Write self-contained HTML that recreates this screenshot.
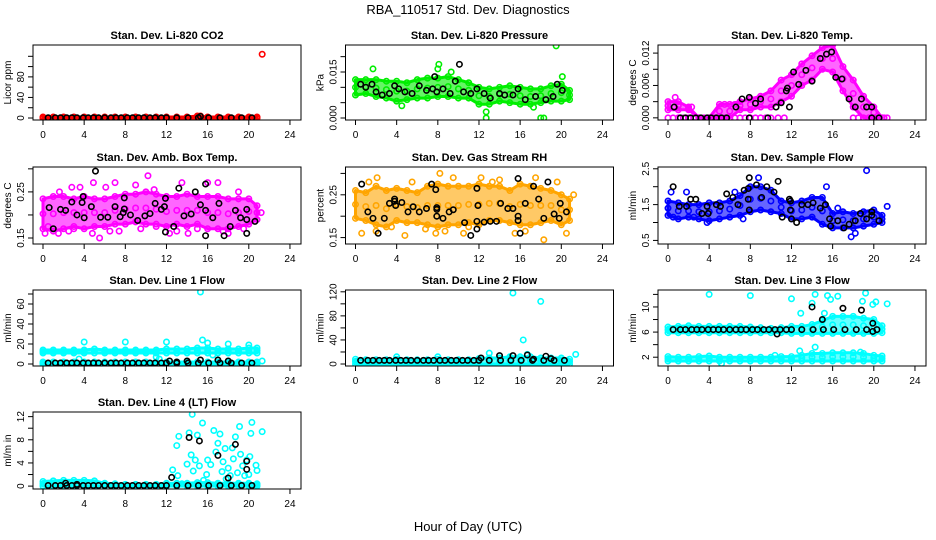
<!DOCTYPE html>
<html><head><meta charset="utf-8">
<style>
html,body{margin:0;padding:0;background:#fff;}
svg{display:block;font-family:"Liberation Sans",Arial,sans-serif;}
</style></head>
<body>
<svg id="chart" width="936" height="540" viewBox="0 0 936 540">
<text x="468" y="14" text-anchor="middle" font-size="13">RBA_110517  Std. Dev. Diagnostics</text>
<text x="468" y="531" text-anchor="middle" font-size="13">Hour of Day (UTC)</text>
</svg>
<script>
const HRS=[0,1,2,3,4,5,6,7,8,9,10,11,12,13,14,15,16,17,18,19,20,20.8];
const BASE_X=[0.5,1.2,1.7,2.3,2.8,3.3,3.9,4.4,4.9,5.4,6.0,6.6,7.1,7.6,8.2,8.7,9.3,9.8,10.4,10.9,11.5,12.0,13.0,14.1,15.1,16.1,17.2,18.3,19.3,20.3];
const X_TICKS=[0,4,8,12,16,20,24];

// Panel 1 CO2
const co2Lo=[0,0,0,0,0,0,0,0,0,0,0,0,0,0,0,0,0,0,0,0,0,0];
const co2Hi=[2,2,2,2,2,2,2,2,2,2,2,2,2,2,2,4,2,2,2,2,2,2];
const co2OutX=[21.3,15.3];
const co2OutY=[124,4];
const co2BlkX=[15.3];
const co2BlkY=[3];
const co2Base=0.5;
// Panel 2 pressure
const prLo=[.0075,.008,.007,.0065,.0055,.006,.0065,.0065,.007,.007,.0065,.0065,.0045,.0045,.0055,.005,.0045,.0045,.005,.0055,.0055,.006];
const prHi=[.0125,.0125,.0125,.012,.012,.0115,.0125,.013,.013,.0135,.0125,.0115,.01,.0095,.01,.0105,.01,.0095,.0095,.0105,.011,.009];
const prOutX=[1.7,8.1,9.3,19.5,20.1,12.7,17.3,18,18.3,4.5,12.7,8.0];
const prOutY=[.016,.0175,.015,.0235,.0135,0,.0035,0,0,.004,.002,.016];
const prBlkX=[0.5,1,1.6,2,2.6,3.3,3.8,4.2,4.8,5.5,6.2,6.9,7.5,7.7,7.9,8.5,9.2,9.7,10.1,10.5,11.2,11.8,12.5,13.1,14,14.5,15.3,15.8,16.5,17.5,18.5,19.2,19.6,20.1];
const prBlkY=[.011,.010,.011,.0085,.0075,.008,.0105,.0095,.0085,.008,.0105,.009,.0095,.0135,.0085,.0095,.008,.012,.0175,.0085,.008,.0095,.008,.0065,.008,.0075,.0075,.0095,.006,.007,.006,.007,.011,.009];
// Panel 3 temp
const tpLo=[.0015,.0015,.0015,0,0,0,0,.0015,.0015,.002,.002,.003,.004,.006,.007,.009,.0085,.005,.002,0,0,0];
const tpHi=[.003,.003,.002,0,0,.0025,.0025,.003,.0035,.004,.005,.007,.008,.01,.0115,.013,.0135,.0095,.007,.004,.002,0];
const tpOutX=[0,0.5,1,1.5,2,2.5,3,3.5,4,4.5,5,5.5,6,6.5,7,7.5,8,8.5,9,9.5,10,10.7,11.3,18,18.5,19,19.5,20,20.5,21,21.3,0.7,2.3,5.5,6.5];
const tpOutY=[0,0,0,0,0,0,0,0,0,0,0,0,0,0,0,0,0,0,0,0,0,0,0,0,0,0,0,0,0,0,0,.0038,.002,.0025,.0025];
const tpBlkX=[0.6,1.2,1.7,2.2,2.7,3.2,3.8,4.2,4.7,5.2,5.7,6.6,7.2,7.9,7.9,8.5,9,9.7,10.5,11,11.5,11.6,11.8,12.2,12.7,13.4,14,14.8,15.4,15.9,16.3,16.9,17.6,18.2,18.8,19.3,19.8,19.8,20.5];
const tpBlkY=[.002,0,0,0,0,0,0,0,0,0,0,.002,.0035,.0038,0,.0027,.0035,0,.002,.0028,.005,.0055,.002,.0085,.0062,.0088,.0068,.011,.0118,.0122,.0075,.0072,.0035,.002,.0035,.002,.002,0,0];
// Panel 4 amb box temp
const abLo=[.17,.165,.17,.175,.17,.175,.175,.18,.18,.185,.18,.18,.175,.18,.175,.18,.17,.17,.17,.175,.18,.19];
const abHi=[.235,.24,.24,.235,.24,.235,.235,.24,.245,.245,.25,.245,.24,.24,.245,.24,.24,.24,.235,.235,.235,.22];
const abOutX=[0.2,1.5,2.5,2.8,4.8,4.9,5.5,6.1,7,7.4,9,10.2,10.8,12.3,13.5,14.1,16,17,18,19,21.2,1.6,3.6,0.5,3,6.5,9.5,11,13,15,17.5,19.5];
const abOutY=[.16,.16,.165,.26,.16,.27,.15,.26,.27,.165,.265,.285,.255,.16,.27,.16,.27,.27,.16,.25,.205,.25,.26,.175,.17,.165,.17,.175,.165,.17,.165,.17];
const abBlkX=[0.6,1,1.7,2.2,2.8,3.3,3.9,3.8,4,4.7,5.1,5.6,6.3,7,7.5,7.9,7.9,7.8,8.5,9.2,9.9,10.4,10.9,11.5,11.8,11.9,11.9,12.7,13.2,13.7,14.4,14.8,15.3,15.8,15.8,15.8,16.5,17.1,17.6,18.2,18.7,19.2,19.8,19.8,19.8,20.6];
const abBlkY=[.216,.17,.212,.21,.228,.2,.24,.227,.194,.218,.295,.195,.195,.218,.196,.237,.213,.205,.2,.188,.198,.203,.225,.212,.218,.236,.163,.175,.258,.198,.202,.25,.222,.267,.155,.21,.194,.225,.155,.175,.21,.194,.212,.19,.16,.186];
// Panel 5 RH
const rhLo=[.195,.19,.18,.175,.19,.185,.185,.18,.175,.18,.18,.185,.18,.19,.19,.185,.18,.18,.185,.19,.18,.19];
const rhHi=[.26,.255,.27,.26,.265,.26,.255,.27,.275,.27,.27,.27,.275,.27,.27,.26,.275,.27,.265,.26,.25,.24];
const rhOutX=[0.6,2,4.8,7.8,8.2,8.7,9.5,10.5,12.2,14,15.5,17.5,18.3,20.5,21.2,2.1,1.3,3.5,5.5,6.8,11,13.3,16.5,19.6];
const rhOutY=[.16,.165,.155,.16,.3,.165,.29,.16,.29,.285,.16,.29,.145,.16,.25,.29,.28,.175,.28,.17,.175,.28,.165,.28];
const rhBlkX=[0.6,1.2,1.7,2.2,2.8,3.3,3.8,3.8,3.9,4.5,5.1,5.6,6.2,6.9,7.4,7.8,7.9,7.9,7.9,8.5,9.1,9.5,10.6,11.2,11.8,11.9,11.8,11.8,12.5,13.1,13.7,14.1,14.8,15.3,15.8,15.8,15.8,16,16.5,17.3,17.8,18.3,18.7,19.3,19.8,19.9,20.5];
const rhBlkY=[.275,.21,.195,.16,.195,.23,.235,.24,.225,.232,.21,.222,.21,.218,.275,.262,.22,.216,.2,.195,.21,.215,.185,.155,.265,.225,.188,.17,.186,.188,.188,.23,.218,.218,.288,.2,.19,.16,.23,.27,.24,.195,.28,.205,.195,.23,.21];
// Panel 6 sample flow
const sfLo=[1.2,1.1,1.15,1.1,1.05,1.1,1.15,1.2,1.3,1.35,1.3,1.25,1.1,1.1,1.15,0.95,0.85,0.85,0.85,0.9,0.95,1.0];
const sfHi=[1.6,1.55,1.5,1.5,1.55,1.55,1.6,1.75,2.0,2.0,1.9,1.6,1.55,1.6,1.7,1.7,1.25,1.3,1.25,1.3,1.35,1.2];
const sfOutX=[0.3,1.8,8.8,15.4,19.3,21.3,17.8,18.2,3.8,7.3,16.5,0.5,2.5,6.5];
const sfOutY=[1.85,1.85,2.25,2.0,2.45,1.45,0.6,0.7,1.0,1.1,1.4,1.15,1.15,1.85];
const sfBlkX=[0.5,1.1,1.8,2.2,2.7,3.3,3.8,3.9,4.7,5.1,5.7,6.3,6.8,7.4,7.8,7.9,7.8,7.9,8.6,9.1,9.6,10.3,10.7,11.1,11.8,11.9,11.9,12,12.5,13,13.6,14.1,14.8,15.3,15.7,15.8,16.5,17.1,17.6,18.2,18.7,19.3,19.8,19.8,20.5];
const sfBlkY=[2.0,1.45,1.45,1.65,1.65,1.25,1.45,1.25,1.5,1.45,1.8,1.7,1.5,1.9,1.95,2.25,1.65,1.35,2.05,1.7,2.0,1.85,2.15,1.15,1.65,1.6,1.35,1.1,1.0,1.5,1.5,1.55,1.4,1.5,1.1,0.9,1.05,0.85,0.95,1.05,1.25,1.1,1.2,1.3,1.05];
// Panel 7 line 1
const l1Lo=[11,11,11,11,11,11,11,11,11,11,11,11,11,11,11,11,11,11,11,11,11,11];
const l1Hi=[14,14,14,14,14,15,14,14,14,14,14,14,15,15,15,16,16,15,15,15,16,16];
const l1Lo2=[0,0,0,0,0,0,0,0,0,0,0,0,0,0,0,0,0,0,0,0,0,0];
const l1Hi2=[2,2,2,2,2,2,2,2,2,2,2,2,2,2,2,2,2,2,2,2,2,2];
const l1OutX=[4,8,12,15.3,15.5,16,18,20,11,11.3,3.5,16.5,21.3];
const l1OutY=[22,22,22,72,24,21,20,19,7,5,5,9,3];
const l1BlkX=[12.3,13,14,15.3,17,18];
const l1BlkY=[3,2,3,4,4,3];
const l1Base=1;
// Panel 8 line 2
const l2Lo=[0,0,0,0,0,0,0,0,0,0,0,0,0,0,0,0,0,0,0,0,0,0];
const l2Hi=[8,7,7,7,8,7,7,7,8,7,7,7,9,10,10,12,12,12,10,10,10,8];
const l2OutX=[4,8,13,15.3,16.3,18,21.4,16.7];
const l2OutY=[12,12,18,118,40,104,16,16];
const l2BlkX=[12.2,14,15.3,16.7,17.3,18.5,19];
const l2BlkY=[10,14,14,15,8,13,9];
const l2Base=6;
// Panel 9 line 3
const l3Lo=[5.9,5.9,5.9,5.9,5.9,5.9,5.9,5.9,5.9,5.9,5.9,5.9,5.8,5.8,5.8,5.8,5.8,5.8,5.8,5.8,5.8,5.9];
const l3Hi=[6.8,6.9,7,6.9,6.9,6.9,6.9,6.9,6.8,6.7,6.6,6.7,6.9,6.9,7.2,7.8,8.5,8.5,8.5,8.2,8,7];
const l3Lo2=[1.4,1.4,1.4,1.4,1.4,1.4,1.4,1.4,1.4,1.4,1.4,1.4,1.4,1.4,1.4,1.4,1.4,1.4,1.4,1.4,1.4,1.4];
const l3Hi2=[2.1,2,2,2.1,2.2,2,2,2,2,2,2,2.1,2.1,2.3,2.6,2.6,2.7,2.7,2.7,2.6,2.3,2.2];
const l3OutX=[4,8,12,12.9,14,14.3,15.2,15.5,15.8,16.5,18.9,19.2,19.9,20.2,21.3,12.8,14.3,18.7,5.2,10.4];
const l3OutY=[12,11.8,11.3,9,10.6,12,9,11.8,11.2,11.7,10.9,12.2,10.4,10.8,10.5,3,3.6,2.8,1.0,2.3];
const l3BlkX=[10.6,14,15,17,18.8,19.9,19.9];
const l3BlkY=[5.7,10,8,9.8,9.5,7.4,6.1];
const l3Base=6.4;
// Panel 10 line 4
const l4Lo=[0,0,0,0,0,0,0,0,0,0,0,0,0,0,0,0,0,0,0,0,0,0];
const l4Hi=[0.8,0.9,1,1,1,0.9,0.5,0.4,0.3,0.3,0.3,0.3,0.5,0.5,0.5,0.6,0.6,0.5,0.5,0.5,0.5,0.4];
const l4OutX=[12.6,13,13.1,13.2,14,14.2,14.4,14.5,14.6,14.8,15,15.2,15.5,15.6,15.9,16.3,16.6,16.8,17,17.2,17.4,17.5,17.7,18,18.2,18.4,18.5,18.7,18.9,19.1,19.2,19.4,19.6,19.8,20,20.1,20.2,20.3,20.7,20.8,21.3,16,17.8,13.5];
const l4OutY=[2.8,7,1.8,8.6,3.8,9.2,5.4,12.4,2.6,4.5,8.8,3.5,10.9,1,2,3.7,9.6,5.9,7.4,9,2.5,4.2,6.5,3.1,1.8,6.6,4.7,8.5,2.3,10.3,5.5,3.5,1.8,4.5,2,5.1,9.1,11,3.6,2.7,9.4,4.5,1.2,0.4];
const l4BlkX=[2.2,3.3,12.5,14.2,15.2,17,18,18.7,19.8,19.8];
const l4BlkY=[0.5,0.3,1.5,8.4,7.8,5.3,1.4,7.2,4.3,2.9];
const l4Base=0.1;

const NS="http://www.w3.org/2000/svg";
const svg=document.getElementById('chart');
const COLX0=[43,355.5,668], ROWTOP=[45,167,290,412], ROWH=[75,77,76,77], PXH=10.29;
function mk(tag,attrs,parent){const e=document.createElementNS(NS,tag);for(const k in attrs)e.setAttribute(k,attrs[k]);(parent||svg).appendChild(e);return e;}

const panels=[
 {id:'co2',title:'Stan. Dev. Li-820 CO2',yl:'Licor ppm',col:0,row:0,color:'#ff0000',dom:[-3.9,142],ticks:[0,20,40,60,80,100,120],labs:[0,40,80],bands:[[co2Lo,co2Hi]],ox:co2OutX,oy:co2OutY,bx:co2BlkX,by:co2BlkY,base:co2Base},
 {id:'pressure',title:'Stan. Dev. Li-820 Pressure',yl:'kPa',col:1,row:0,color:'#00ee00',dom:[-0.00065,0.02380],ticks:[0,.005,.010,.015,.020],labs:[0,.015],fmt:3,bands:[[prLo,prHi]],ox:prOutX,oy:prOutY,bx:prBlkX,by:prBlkY},
 {id:'temp',title:'Stan. Dev. Li-820 Temp.',yl:'degrees C',col:2,row:0,color:'#ff00ff',dom:[-0.0004,0.0135],ticks:[0,.003,.006,.009,.012],labs:[0,.006,.012],fmt:3,bands:[[tpLo,tpHi]],ox:tpOutX,oy:tpOutY,bx:tpBlkX,by:tpBlkY},
 {id:'ambbox',title:'Stan. Dev. Amb. Box Temp.',yl:'degrees C',col:0,row:1,color:'#ff00ff',dom:[0.137,0.304],ticks:[.15,.20,.25,.30],labs:[.15,.25],fmt:2,bands:[[abLo,abHi]],ox:abOutX,oy:abOutY,bx:abBlkX,by:abBlkY},
 {id:'rh',title:'Stan. Dev. Gas Stream RH',yl:'percent',col:1,row:1,color:'#ffa500',dom:[0.135,0.315],ticks:[.15,.20,.25,.30],labs:[.15,.25],fmt:2,bands:[[rhLo,rhHi]],ox:rhOutX,oy:rhOutY,bx:rhBlkX,by:rhBlkY},
 {id:'sampleflow',title:'Stan. Dev. Sample Flow',yl:'ml/min',col:2,row:1,color:'#0000ff',dom:[0.4,2.55],ticks:[.5,1,1.5,2,2.5],labs:[.5,1.5,2.5],fmt:1,bands:[[sfLo,sfHi]],ox:sfOutX,oy:sfOutY,bx:sfBlkX,by:sfBlkY},
 {id:'line1',title:'Stan. Dev. Line 1 Flow',yl:'ml/min',col:0,row:2,color:'#00ffff',dom:[-2,74],ticks:[0,10,20,30,40,50,60,70],labs:[0,20,40,60],bands:[[l1Lo,l1Hi],[l1Lo2,l1Hi2]],ox:l1OutX,oy:l1OutY,bx:l1BlkX,by:l1BlkY,base:l1Base},
 {id:'line2',title:'Stan. Dev. Line 2 Flow',yl:'ml/min',col:1,row:2,color:'#00ffff',dom:[-3.3,123],ticks:[0,20,40,60,80,100,120],labs:[0,40,80,120],bands:[[l2Lo,l2Hi]],ox:l2OutX,oy:l2OutY,bx:l2BlkX,by:l2BlkY,base:l2Base},
 {id:'line3',title:'Stan. Dev. Line 3 Flow',yl:'ml/min',col:2,row:2,color:'#00ffff',dom:[0.6,12.7],ticks:[2,4,6,8,10,12],labs:[2,6,10],bands:[[l3Lo,l3Hi],[l3Lo2,l3Hi2]],ox:l3OutX,oy:l3OutY,bx:l3BlkX,by:l3BlkY,base:l3Base},
 {id:'line4',title:'Stan. Dev. Line 4 (LT) Flow',yl:'ml/m in',col:0,row:3,color:'#00ffff',dom:[-0.5,12.8],ticks:[0,2,4,6,8,10,12],labs:[0,4,8,12],bands:[[l4Lo,l4Hi]],ox:l4OutX,oy:l4OutY,bx:l4BlkX,by:l4BlkY,base:l4Base}
];

panels.forEach(p=>{
 const x0=COLX0[p.col], top=ROWTOP[p.row], h=ROWH[p.row], bot=top+h, left=x0-10, right=x0+258;
 const xs=v=>x0+v*PXH;
 const ys=v=>bot-(v-p.dom[0])/(p.dom[1]-p.dom[0])*h;
 const g=mk('g',{});
 
 
 const t=mk('text',{x:(left+right)/2,y:top-6,'text-anchor':'middle','font-size':'11','font-weight':'bold'},g);
 t.textContent=p.title;
 
 
 const clip=mk('clipPath',{id:'clip-'+p.id},g);
 mk('rect',{x:left,y:top,width:right-left,height:h},clip);
 const pg=mk('g',{'clip-path':'url(#clip-'+p.id+')'},g);
 
 
 p.bands.forEach((b,bi)=>{
  const [lo,hi]=b;
  let pts=HRS.map((hr,i)=>xs(hr)+','+ys(hi[i]));
  pts=pts.concat(HRS.map((hr,i)=>xs(hr)+','+ys(lo[i])).reverse());
  const poly=mk('polygon',{points:pts.join(' '),fill:p.color,'fill-opacity':'0.6',stroke:p.color,'stroke-width':'3','stroke-linejoin':'round'},pg);
  
  
  HRS.forEach((hr,i)=>{[lo[i],hi[i],(lo[i]+hi[i])/2].forEach(v=>{
   const c=mk('circle',{cx:xs(hr),cy:ys(v),r:2.7,fill:'none',stroke:p.color,'stroke-width':'1.6'},pg);
   
   
  });});
 });
 p.ox.forEach((xv,i)=>{
  const c=mk('circle',{cx:xs(xv),cy:ys(p.oy[i]),r:2.7,fill:'none',stroke:p.color,'stroke-width':'1.6'},pg);
  
  
 });
 if(p.base!==undefined){BASE_X.forEach(xv=>{
  const c=mk('circle',{cx:xs(xv),cy:ys(p.base),r:2.7,fill:'none',stroke:'#000','stroke-width':'1.6'},pg);
  
  
 });}
 p.bx.forEach((xv,i)=>{
  const c=mk('circle',{cx:xs(xv),cy:ys(p.by[i]),r:2.7,fill:'none',stroke:'#000','stroke-width':'1.6'},pg);
  
  
 });
 const box=mk('rect',{x:left,y:top,width:right-left,height:h,fill:'none',stroke:'#000','stroke-width':'1'},g);
 
 
 X_TICKS.forEach(v=>{
  mk('line',{x1:xs(v),x2:xs(v),y1:bot,y2:bot+5,stroke:'#000'},g);
  const tl=mk('text',{x:xs(v),y:bot+18,'text-anchor':'middle','font-size':'10'},g);
  tl.textContent=v;
  
  
 });
 p.ticks.forEach(v=>{
  const y=ys(v);
  mk('line',{x1:left,x2:left-5,y1:y,y2:y,stroke:'#000'},g);
 });
 p.labs.forEach(v=>{
  const y=ys(v);
  const tl=mk('text',{x:left-9,y:y,'text-anchor':'middle','font-size':'10',transform:'rotate(-90 '+(left-9)+' '+y+')'},g);
  tl.textContent=p.fmt?v.toFixed(p.fmt):v;
  
  
 });
 const yc=top+h/2;
 const yl=mk('text',{x:left-22,y:yc,'text-anchor':'middle','font-size':'10',transform:'rotate(-90 '+(left-22)+' '+yc+')'},g);
 yl.textContent=p.yl;
 
 
});
</script>
</body></html>
